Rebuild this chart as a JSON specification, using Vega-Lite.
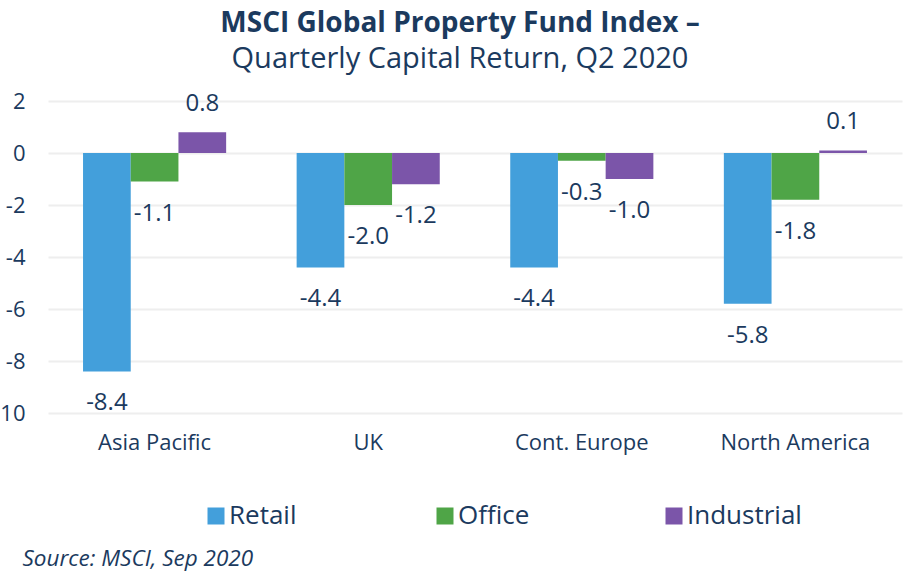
{
  "$schema": "https://vega.github.io/schema/vega-lite/v6.json",
  "width": 854,
  "height": 312,
  "autosize": {"type": "none"},
  "padding": {"left": 48, "top": 101, "right": 21, "bottom": 162},
  "background": "white",
  "title": {
    "text": "MSCI Global Property Fund Index –",
    "subtitle": "Quarterly Capital Return, Q2 2020",
    "anchor": "middle",
    "dx": -15,
    "offset": 16,
    "font": "Open Sans",
    "fontSize": 28,
    "fontWeight": "bold",
    "color": "#1b3a5e",
    "subtitleFont": "Open Sans",
    "subtitleFontSize": 29,
    "subtitleColor": "#1b3a5e",
    "subtitlePadding": 7
  },
  "config": {
    "view": {"stroke": null},
    "font": "Open Sans",
    "locale": {
      "number": {"decimal": ".", "thousands": ",", "grouping": [3], "currency": ["$", ""], "minus": "-"}
    },
    "axis": {"labelColor": "#1b3a5e", "labelFont": "Open Sans"},
    "legend": {"labelColor": "#1b3a5e", "labelFont": "Open Sans"}
  },
  "data": {
    "values": [
      {"region": "Asia Pacific", "sector": "Retail", "value": -8.4},
      {"region": "Asia Pacific", "sector": "Office", "value": -1.1},
      {"region": "Asia Pacific", "sector": "Industrial", "value": 0.8},
      {"region": "UK", "sector": "Retail", "value": -4.4},
      {"region": "UK", "sector": "Office", "value": -2.0},
      {"region": "UK", "sector": "Industrial", "value": -1.2},
      {"region": "Cont. Europe", "sector": "Retail", "value": -4.4},
      {"region": "Cont. Europe", "sector": "Office", "value": -0.3},
      {"region": "Cont. Europe", "sector": "Industrial", "value": -1.0},
      {"region": "North America", "sector": "Retail", "value": -5.8},
      {"region": "North America", "sector": "Office", "value": -1.8},
      {"region": "North America", "sector": "Industrial", "value": 0.1}
    ]
  },
  "encoding": {
    "x": {
      "field": "region",
      "type": "nominal",
      "sort": ["Asia Pacific", "UK", "Cont. Europe", "North America"],
      "scale": {"paddingInner": 0.33, "paddingOuter": 0.164},
      "axis": {
        "title": "Source: MSCI, Sep 2020",
        "titleX": -26,
        "titleY": 145,
        "titleAlign": "left",
        "titleBaseline": "middle",
        "titleFont": "Open Sans",
        "titleFontStyle": "italic",
        "titleFontWeight": "normal",
        "titleFontSize": 22.5,
        "titleColor": "#1b3a5e",
        "labelAngle": 0,
        "labelFontSize": 22,
        "labelPadding": 19,
        "domain": false,
        "ticks": false
      }
    },
    "xOffset": {
      "field": "sector",
      "type": "nominal",
      "sort": ["Retail", "Office", "Industrial"]
    },
    "y": {
      "field": "value",
      "type": "quantitative",
      "scale": {"domain": [-10, 2], "nice": false, "zero": false},
      "axis": {
        "title": null,
        "values": [-10, -8, -6, -4, -2, 0, 2],
        "labelExpr": "datum.value == -10 ? '10' : datum.label",
        "labelFontSize": 22,
        "labelPadding": 23,
        "domain": false,
        "ticks": false,
        "gridColor": "#eeeeee",
        "gridWidth": 2
      }
    }
  },
  "layer": [
    {
      "mark": {"type": "bar"},
      "encoding": {
        "color": {
          "field": "sector",
          "type": "nominal",
          "sort": ["Retail", "Office", "Industrial"],
          "scale": {
            "domain": ["Retail", "Office", "Industrial"],
            "range": ["#439fdb", "#4fa547", "#7b55a9"]
          },
          "legend": {
            "title": null,
            "orient": "none",
            "direction": "horizontal",
            "legendX": 155,
            "legendY": 402,
            "columns": 3,
            "gridAlign": "all",
            "columnPadding": 88,
            "symbolType": "square",
            "symbolSize": 289,
            "symbolStrokeWidth": 0,
            "symbolOpacity": 1,
            "labelFontSize": 26,
            "labelOffset": 0
          }
        }
      }
    },
    {
      "transform": [{"filter": "datum.value < 0"}],
      "mark": {"type": "text", "baseline": "middle", "dy": 32, "fontSize": 24, "color": "#1b3a5e", "font": "Open Sans"},
      "encoding": {"text": {"field": "value", "type": "quantitative", "format": ".1f"}}
    },
    {
      "transform": [{"filter": "datum.value >= 0"}],
      "mark": {"type": "text", "baseline": "middle", "dy": -28, "fontSize": 24, "color": "#1b3a5e", "font": "Open Sans"},
      "encoding": {"text": {"field": "value", "type": "quantitative", "format": ".1f"}}
    }
  ]
}
